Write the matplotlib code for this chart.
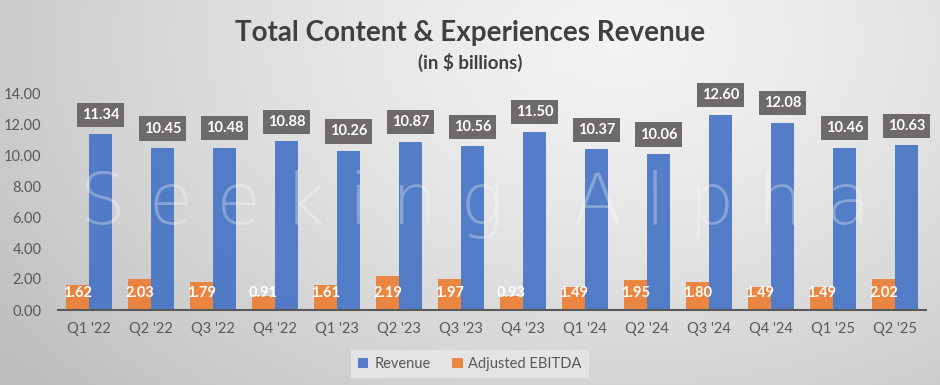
import numpy as np
import matplotlib
matplotlib.use("Agg")
import matplotlib.pyplot as plt

quarters = ["Q1 '22", "Q2 '22", "Q3 '22", "Q4 '22", "Q1 '23", "Q2 '23", "Q3 '23",
            "Q4 '23", "Q1 '24", "Q2 '24", "Q3 '24", "Q4 '24", "Q1 '25", "Q2 '25"]
revenue = [11.34, 10.45, 10.48, 10.88, 10.26, 10.87, 10.56, 11.50, 10.37, 10.06,
           12.60, 12.08, 10.46, 10.63]
ebitda = [1.62, 2.03, 1.79, 0.91, 1.61, 2.19, 1.97, 0.93, 1.49, 1.95, 1.80, 1.49,
          1.49, 2.02]
yticks = [0, 2, 4, 6, 8, 10, 12, 14]

plt.rcParams['font.family'] = ['Lato', 'DejaVu Sans']

fig = plt.figure(figsize=(9.4, 3.85), dpi=100)

# background gradient
bg = fig.add_axes([0, 0, 1, 1], zorder=-10)
H, W = 385, 940
yy, xx = np.mgrid[0:H, 0:W]
d = np.sqrt(((xx - 620) / 620.0) ** 2 + ((yy - 40) / 420.0) ** 2)
d = np.clip(d, 0, 1.25) / 1.25
v = 0.955 - 0.21 * d ** 1.3
img = np.dstack([v, v, v])
bg.imshow(img, aspect='auto', extent=[0, 1, 0, 1], origin='upper')
bg.set_xlim(0, 1); bg.set_ylim(0, 1)
bg.axis('off')

# watermark
fig.text(0.505, 0.47, "S e e k i n g   A l p h a", fontsize=52, color='white', alpha=0.3,
         ha='center', va='center', family='DejaVu Sans', fontweight='light')

ax = fig.add_axes([58 / 940, 1 - 310 / 385, 868 / 940, 217 / 385])
ax.patch.set_alpha(0)

x = np.arange(len(quarters))
w = 0.37
b_e = ax.bar(x - w / 2, ebitda, w, color='#ED7D31', label='Adjusted EBITDA', zorder=3)
b_r = ax.bar(x + w / 2, revenue, w, color='#4472C4', label='Revenue', zorder=3)
for b in list(b_e) + list(b_r):
    b.set_alpha(0.9)

ax.bar_label(b_r, labels=[f"{v:.2f}" for v in revenue], padding=9, color='white',
             fontsize=10.5, fontweight='bold',
             bbox=dict(boxstyle='square,pad=0.35', fc='#6E6A69', ec='none'), zorder=5)

for xi, v in zip(x, ebitda):
    ax.text(xi - w / 2, 1.1, f"{v:.2f}", ha='center', va='center', color='white',
            fontsize=10.5, fontweight='bold', zorder=5)

ax.set_xlim(-0.5, len(quarters) - 0.5)
ax.set_ylim(0, 14)
ax.set_yticks(yticks)
ax.set_yticklabels([f"{t:.2f}" for t in yticks])
ax.set_xticks(x)
ax.set_xticklabels(quarters)
ax.tick_params(axis='both', length=0, labelsize=10.5, colors='#595959')
ax.tick_params(axis='y', pad=12)
ax.tick_params(axis='x', pad=9)
for s in ['top', 'right', 'left']:
    ax.spines[s].set_visible(False)
ax.spines['bottom'].set_color('#595959')
ax.spines['bottom'].set_linewidth(1.5)
ax.spines['bottom'].set_zorder(4)

fig.text(0.5, 1 - 33 / 385, "Total Content & Experiences Revenue", ha='center',
         va='center', fontsize=20, fontweight='bold', color='#404040')
fig.text(0.5, 1 - 62 / 385, "(in $ billions)", ha='center', va='center',
         fontsize=13.5, fontweight='bold', color='#404040')

handles = [b_r, b_e]
leg = fig.legend(handles, ['Revenue', 'Adjusted EBITDA'], loc='center',
                 bbox_to_anchor=(0.5, 1 - 364 / 385), ncol=2, frameon=True,
                 fontsize=10.5, handlelength=0.7, handleheight=0.7, handletextpad=0.4,
                 columnspacing=1.5, borderpad=0.5, fancybox=False)
leg.get_frame().set_facecolor('#E8E8E8')
leg.get_frame().set_edgecolor('none')
leg.get_frame().set_alpha(0.8)
for t in leg.get_texts():
    t.set_color('#595959')

fig.savefig('out.png', dpi=100)
